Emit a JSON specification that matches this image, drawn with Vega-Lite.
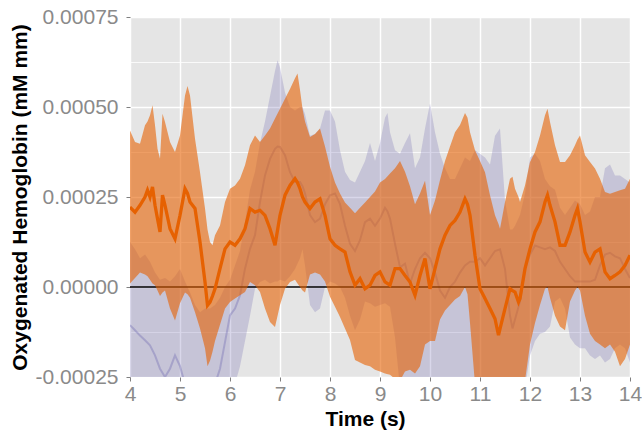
{
"$schema":"https://vega.github.io/schema/vega-lite/v6.json",
"width":500,"height":360,
"autosize":{"type":"none"},
"padding":{"left":130,"top":17,"right":12,"bottom":64},
"config":{"view":{"fill":"#e5e5e5","stroke":null},"font":"Liberation Sans"},
"data":{"values":[
{"g":"P","t":4.0,"lo":-3.5e-4,"hi":1.25e-4,"m":-1.06e-4},
{"g":"P","t":4.1,"lo":-3.5e-4,"hi":1.05e-4,"m":-1.2e-4},
{"g":"P","t":4.2,"lo":-3.5e-4,"hi":0.8e-4,"m":-1.35e-4},
{"g":"P","t":4.3,"lo":-3.5e-4,"hi":0.9e-4,"m":-1.48e-4},
{"g":"P","t":4.4,"lo":-3.5e-4,"hi":0.7e-4,"m":-1.62e-4},
{"g":"P","t":4.5,"lo":-3.5e-4,"hi":0.4e-4,"m":-1.9e-4},
{"g":"P","t":4.6,"lo":-3.5e-4,"hi":0.2e-4,"m":-2.27e-4},
{"g":"P","t":4.7,"lo":-3.5e-4,"hi":0.25e-4,"m":-2.5e-4},
{"g":"P","t":4.8,"lo":-3.5e-4,"hi":0.15e-4,"m":-2.27e-4},
{"g":"P","t":4.9,"lo":-3.5e-4,"hi":0.3e-4,"m":-1.9e-4},
{"g":"P","t":5.0,"lo":-3.5e-4,"hi":0.5e-4,"m":-2.2e-4},
{"g":"P","t":5.1,"lo":-3.5e-4,"hi":0.15e-4,"m":-2.7e-4},
{"g":"P","t":5.2,"lo":-3.5e-4,"hi":-0.15e-4,"m":-3.0e-4},
{"g":"P","t":5.3,"lo":-3.5e-4,"hi":-0.5e-4,"m":-3.2e-4},
{"g":"P","t":5.4,"lo":-3.5e-4,"hi":-0.7e-4,"m":-3.3e-4},
{"g":"P","t":5.5,"lo":-3.5e-4,"hi":-0.6e-4,"m":-3.2e-4},
{"g":"P","t":5.6,"lo":-3.5e-4,"hi":-0.6e-4,"m":-3.0e-4},
{"g":"P","t":5.7,"lo":-3.5e-4,"hi":-0.5e-4,"m":-2.7e-4},
{"g":"P","t":5.8,"lo":-3.5e-4,"hi":-0.3e-4,"m":-2.27e-4},
{"g":"P","t":5.9,"lo":-3.3e-4,"hi":0.0e-4,"m":-1.53e-4},
{"g":"P","t":6.0,"lo":-3.0e-4,"hi":0.2e-4,"m":-0.79e-4},
{"g":"P","t":6.1,"lo":-2.7e-4,"hi":0.6e-4,"m":-0.6e-4},
{"g":"P","t":6.2,"lo":-2.2e-4,"hi":1.0e-4,"m":-0.23e-4},
{"g":"P","t":6.3,"lo":-1.5e-4,"hi":1.8e-4,"m":0.51e-4},
{"g":"P","t":6.4,"lo":-0.8e-4,"hi":2.7e-4,"m":1.06e-4},
{"g":"P","t":6.5,"lo":-0.05e-4,"hi":3.2e-4,"m":1.44e-4},
{"g":"P","t":6.6,"lo":0.14e-4,"hi":4.0e-4,"m":2.36e-4},
{"g":"P","t":6.7,"lo":0.2e-4,"hi":4.6e-4,"m":3.1e-4},
{"g":"P","t":6.8,"lo":0.1e-4,"hi":5.3e-4,"m":3.56e-4},
{"g":"P","t":6.9,"lo":0.15e-4,"hi":6.0e-4,"m":3.84e-4},
{"g":"P","t":6.95,"lo":0.15e-4,"hi":6.3e-4,"m":3.9e-4},
{"g":"P","t":7.0,"lo":0.2e-4,"hi":6.1e-4,"m":3.89e-4},
{"g":"P","t":7.1,"lo":0.15e-4,"hi":5.4e-4,"m":3.66e-4},
{"g":"P","t":7.2,"lo":0.3e-4,"hi":5.0e-4,"m":3.19e-4},
{"g":"P","t":7.3,"lo":0.5e-4,"hi":4.9e-4,"m":2.92e-4},
{"g":"P","t":7.4,"lo":0.8e-4,"hi":5.0e-4,"m":2.92e-4},
{"g":"P","t":7.45,"lo":1.05e-4,"hi":5.0e-4,"m":2.8e-4},
{"g":"P","t":7.5,"lo":0.6e-4,"hi":4.8e-4,"m":2.6e-4},
{"g":"P","t":7.6,"lo":-0.5e-4,"hi":4.2e-4,"m":2.0e-4},
{"g":"P","t":7.7,"lo":-0.7e-4,"hi":4.25e-4,"m":1.8e-4},
{"g":"P","t":7.8,"lo":-0.6e-4,"hi":4.4e-4,"m":1.9e-4},
{"g":"P","t":7.9,"lo":0.0e-4,"hi":4.9e-4,"m":2.3e-4},
{"g":"P","t":8.0,"lo":0.15e-4,"hi":4.9e-4,"m":2.55e-4},
{"g":"P","t":8.1,"lo":0.1e-4,"hi":4.6e-4,"m":2.6e-4},
{"g":"P","t":8.2,"lo":0.0e-4,"hi":3.8e-4,"m":2.3e-4},
{"g":"P","t":8.3,"lo":-0.3e-4,"hi":3.2e-4,"m":1.7e-4},
{"g":"P","t":8.4,"lo":-0.8e-4,"hi":2.97e-4,"m":1.2e-4},
{"g":"P","t":8.5,"lo":-1.2e-4,"hi":2.9e-4,"m":1.0e-4},
{"g":"P","t":8.6,"lo":-0.9e-4,"hi":3.2e-4,"m":1.3e-4},
{"g":"P","t":8.7,"lo":-0.4e-4,"hi":3.5e-4,"m":1.8e-4},
{"g":"P","t":8.8,"lo":-0.45e-4,"hi":4.0e-4,"m":1.9e-4},
{"g":"P","t":8.9,"lo":-0.55e-4,"hi":3.5e-4,"m":1.7e-4},
{"g":"P","t":9.0,"lo":-0.5e-4,"hi":4.0e-4,"m":1.9e-4},
{"g":"P","t":9.1,"lo":-0.45e-4,"hi":4.7e-4,"m":2.2e-4},
{"g":"P","t":9.15,"lo":-0.5e-4,"hi":4.83e-4,"m":2.1e-4},
{"g":"P","t":9.2,"lo":-0.55e-4,"hi":4.3e-4,"m":1.9e-4},
{"g":"P","t":9.3,"lo":-1.4e-4,"hi":3.8e-4,"m":1.2e-4},
{"g":"P","t":9.4,"lo":-2.8e-4,"hi":3.7e-4,"m":0.55e-4},
{"g":"P","t":9.5,"lo":-3.0e-4,"hi":4.0e-4,"m":0.65e-4},
{"g":"P","t":9.6,"lo":-3.0e-4,"hi":4.27e-4,"m":0.1e-4},
{"g":"P","t":9.7,"lo":-3.0e-4,"hi":3.3e-4,"m":0.5e-4},
{"g":"P","t":9.8,"lo":-3.0e-4,"hi":3.6e-4,"m":0.8e-4},
{"g":"P","t":9.9,"lo":-3.0e-4,"hi":4.4e-4,"m":0.95e-4},
{"g":"P","t":10.0,"lo":-3.0e-4,"hi":5.1e-4,"m":0.8e-4},
{"g":"P","t":10.1,"lo":-3.0e-4,"hi":4.3e-4,"m":0.4e-4},
{"g":"P","t":10.2,"lo":-3.0e-4,"hi":3.7e-4,"m":-0.1e-4},
{"g":"P","t":10.3,"lo":-3.0e-4,"hi":3.3e-4,"m":-0.3e-4},
{"g":"P","t":10.4,"lo":-3.0e-4,"hi":3.0e-4,"m":0.0e-4},
{"g":"P","t":10.5,"lo":-3.0e-4,"hi":3.0e-4,"m":0.15e-4},
{"g":"P","t":10.6,"lo":-3.0e-4,"hi":3.3e-4,"m":0.4e-4},
{"g":"P","t":10.7,"lo":-3.0e-4,"hi":3.6e-4,"m":0.6e-4},
{"g":"P","t":10.8,"lo":-3.0e-4,"hi":3.5e-4,"m":0.7e-4},
{"g":"P","t":10.9,"lo":-3.0e-4,"hi":3.8e-4,"m":0.7e-4},
{"g":"P","t":11.0,"lo":-3.0e-4,"hi":3.7e-4,"m":0.8e-4},
{"g":"P","t":11.1,"lo":-3.0e-4,"hi":3.6e-4,"m":0.6e-4},
{"g":"P","t":11.2,"lo":-3.0e-4,"hi":3.4e-4,"m":0.8e-4},
{"g":"P","t":11.3,"lo":-3.0e-4,"hi":4.2e-4,"m":1.0e-4},
{"g":"P","t":11.4,"lo":-3.0e-4,"hi":4.4e-4,"m":1.05e-4},
{"g":"P","t":11.5,"lo":-3.0e-4,"hi":2.4e-4,"m":0.5e-4},
{"g":"P","t":11.6,"lo":-3.0e-4,"hi":1.6e-4,"m":-0.8e-4},
{"g":"P","t":11.65,"lo":-3.0e-4,"hi":1.6e-4,"m":-1.15e-4},
{"g":"P","t":11.7,"lo":-3.0e-4,"hi":1.7e-4,"m":-0.9e-4},
{"g":"P","t":11.8,"lo":-3.0e-4,"hi":2.0e-4,"m":-0.4e-4},
{"g":"P","t":11.9,"lo":-2.8e-4,"hi":2.6e-4,"m":0.5e-4},
{"g":"P","t":12.0,"lo":-1.9e-4,"hi":3.6e-4,"m":0.9e-4},
{"g":"P","t":12.1,"lo":-1.5e-4,"hi":3.7e-4,"m":1.15e-4},
{"g":"P","t":12.2,"lo":-1.3e-4,"hi":3.5e-4,"m":1.1e-4},
{"g":"P","t":12.3,"lo":-1.25e-4,"hi":3.0e-4,"m":1.05e-4},
{"g":"P","t":12.4,"lo":-1.1e-4,"hi":2.8e-4,"m":1.1e-4},
{"g":"P","t":12.5,"lo":-0.4e-4,"hi":2.7e-4,"m":1.0e-4},
{"g":"P","t":12.6,"lo":-0.3e-4,"hi":2.2e-4,"m":0.7e-4},
{"g":"P","t":12.7,"lo":-0.6e-4,"hi":2.0e-4,"m":0.5e-4},
{"g":"P","t":12.8,"lo":-1.4e-4,"hi":2.2e-4,"m":0.3e-4},
{"g":"P","t":12.9,"lo":-1.6e-4,"hi":2.4e-4,"m":0.15e-4},
{"g":"P","t":13.0,"lo":-1.7e-4,"hi":2.3e-4,"m":0.15e-4},
{"g":"P","t":13.1,"lo":-1.7e-4,"hi":2.0e-4,"m":0.15e-4},
{"g":"P","t":13.2,"lo":-1.9e-4,"hi":2.1e-4,"m":0.15e-4},
{"g":"P","t":13.3,"lo":-2.0e-4,"hi":2.5e-4,"m":0.2e-4},
{"g":"P","t":13.4,"lo":-1.9e-4,"hi":2.5e-4,"m":0.6e-4},
{"g":"P","t":13.5,"lo":-2.1e-4,"hi":3.3e-4,"m":0.9e-4},
{"g":"P","t":13.6,"lo":-2.0e-4,"hi":3.4e-4,"m":0.95e-4},
{"g":"P","t":13.7,"lo":-1.7e-4,"hi":3.1e-4,"m":0.85e-4},
{"g":"P","t":13.8,"lo":-1.6e-4,"hi":3.1e-4,"m":0.8e-4},
{"g":"P","t":13.9,"lo":-1.7e-4,"hi":3.0e-4,"m":0.5e-4},
{"g":"P","t":14.0,"lo":-2.1e-4,"hi":2.9e-4,"m":0.25e-4},
{"g":"O","t":4.0,"lo":0.1e-4,"hi":4.35e-4,"m":2.22e-4},
{"g":"O","t":4.1,"lo":0.25e-4,"hi":4.03e-4,"m":2.08e-4},
{"g":"O","t":4.2,"lo":0.4e-4,"hi":3.98e-4,"m":2.27e-4},
{"g":"O","t":4.3,"lo":0.35e-4,"hi":4.49e-4,"m":2.5e-4},
{"g":"O","t":4.35,"lo":0.3e-4,"hi":4.6e-4,"m":2.69e-4},
{"g":"O","t":4.4,"lo":0.2e-4,"hi":4.77e-4,"m":2.5e-4},
{"g":"O","t":4.45,"lo":0.1e-4,"hi":5.05e-4,"m":2.78e-4},
{"g":"O","t":4.5,"lo":0.05e-4,"hi":4.49e-4,"m":2.27e-4},
{"g":"O","t":4.55,"lo":-0.1e-4,"hi":3.84e-4,"m":1.9e-4},
{"g":"O","t":4.6,"lo":-0.25e-4,"hi":3.56e-4,"m":1.53e-4},
{"g":"O","t":4.65,"lo":-0.15e-4,"hi":4.81e-4,"m":2.55e-4},
{"g":"O","t":4.7,"lo":-0.1e-4,"hi":4.58e-4,"m":2.27e-4},
{"g":"O","t":4.8,"lo":-0.6e-4,"hi":4.03e-4,"m":1.62e-4},
{"g":"O","t":4.9,"lo":-0.93e-4,"hi":3.75e-4,"m":1.34e-4},
{"g":"O","t":5.0,"lo":-0.45e-4,"hi":4.21e-4,"m":1.99e-4},
{"g":"O","t":5.1,"lo":-0.15e-4,"hi":5.32e-4,"m":2.73e-4},
{"g":"O","t":5.15,"lo":-0.2e-4,"hi":5.58e-4,"m":2.6e-4},
{"g":"O","t":5.2,"lo":-0.3e-4,"hi":5.32e-4,"m":2.36e-4},
{"g":"O","t":5.3,"lo":-0.7e-4,"hi":4.12e-4,"m":2.18e-4},
{"g":"O","t":5.4,"lo":-1.15e-4,"hi":3.19e-4,"m":1.25e-4},
{"g":"O","t":5.5,"lo":-1.7e-4,"hi":2.18e-4,"m":0.14e-4},
{"g":"O","t":5.55,"lo":-2.2e-4,"hi":1.6e-4,"m":-0.51e-4},
{"g":"O","t":5.6,"lo":-2.05e-4,"hi":1.25e-4,"m":-0.42e-4},
{"g":"O","t":5.65,"lo":-1.8e-4,"hi":1.16e-4,"m":-0.25e-4},
{"g":"O","t":5.7,"lo":-1.5e-4,"hi":1.44e-4,"m":-0.05e-4},
{"g":"O","t":5.8,"lo":-1.05e-4,"hi":1.71e-4,"m":0.51e-4},
{"g":"O","t":5.9,"lo":-0.6e-4,"hi":2.36e-4,"m":1.06e-4},
{"g":"O","t":6.0,"lo":-0.42e-4,"hi":2.73e-4,"m":1.25e-4},
{"g":"O","t":6.1,"lo":-0.32e-4,"hi":2.82e-4,"m":1.16e-4},
{"g":"O","t":6.2,"lo":-0.23e-4,"hi":3.01e-4,"m":1.34e-4},
{"g":"O","t":6.3,"lo":-0.14e-4,"hi":3.38e-4,"m":1.62e-4},
{"g":"O","t":6.4,"lo":0.14e-4,"hi":3.94e-4,"m":2.18e-4},
{"g":"O","t":6.5,"lo":0.05e-4,"hi":4.21e-4,"m":2.08e-4},
{"g":"O","t":6.6,"lo":-0.14e-4,"hi":4.03e-4,"m":2.13e-4},
{"g":"O","t":6.7,"lo":-0.6e-4,"hi":4.21e-4,"m":1.99e-4},
{"g":"O","t":6.8,"lo":-0.97e-4,"hi":4.4e-4,"m":1.62e-4},
{"g":"O","t":6.9,"lo":-1.11e-4,"hi":4.68e-4,"m":1.16e-4},
{"g":"O","t":7.0,"lo":-0.5e-4,"hi":4.95e-4,"m":1.99e-4},
{"g":"O","t":7.1,"lo":-0.05e-4,"hi":5.23e-4,"m":2.55e-4},
{"g":"O","t":7.2,"lo":0.14e-4,"hi":5.5e-4,"m":2.82e-4},
{"g":"O","t":7.3,"lo":0.2e-4,"hi":5.8e-4,"m":3.01e-4},
{"g":"O","t":7.35,"lo":0.1e-4,"hi":5.93e-4,"m":2.9e-4},
{"g":"O","t":7.4,"lo":0.0e-4,"hi":5.47e-4,"m":2.73e-4},
{"g":"O","t":7.45,"lo":-0.1e-4,"hi":4.95e-4,"m":2.5e-4},
{"g":"O","t":7.5,"lo":-0.15e-4,"hi":4.6e-4,"m":2.36e-4},
{"g":"O","t":7.6,"lo":0.35e-4,"hi":4.17e-4,"m":2.18e-4},
{"g":"O","t":7.7,"lo":0.4e-4,"hi":4.25e-4,"m":2.36e-4},
{"g":"O","t":7.8,"lo":0.35e-4,"hi":4.4e-4,"m":2.45e-4},
{"g":"O","t":7.9,"lo":0.15e-4,"hi":3.9e-4,"m":1.99e-4},
{"g":"O","t":8.0,"lo":-0.27e-4,"hi":3.34e-4,"m":1.34e-4},
{"g":"O","t":8.1,"lo":-0.55e-4,"hi":2.9e-4,"m":1.16e-4},
{"g":"O","t":8.2,"lo":-0.83e-4,"hi":2.6e-4,"m":1.06e-4},
{"g":"O","t":8.3,"lo":-1.15e-4,"hi":2.35e-4,"m":0.97e-4},
{"g":"O","t":8.4,"lo":-1.47e-4,"hi":2.2e-4,"m":0.42e-4},
{"g":"O","t":8.5,"lo":-2.03e-4,"hi":2.05e-4,"m":0.05e-4},
{"g":"O","t":8.6,"lo":-2.1e-4,"hi":2.2e-4,"m":0.23e-4},
{"g":"O","t":8.7,"lo":-2.17e-4,"hi":2.35e-4,"m":-0.05e-4},
{"g":"O","t":8.8,"lo":-2.2e-4,"hi":2.5e-4,"m":0.05e-4},
{"g":"O","t":8.9,"lo":-2.3e-4,"hi":2.65e-4,"m":0.32e-4},
{"g":"O","t":9.0,"lo":-2.35e-4,"hi":2.9e-4,"m":0.42e-4},
{"g":"O","t":9.1,"lo":-2.4e-4,"hi":3.0e-4,"m":0.14e-4},
{"g":"O","t":9.2,"lo":-2.44e-4,"hi":3.15e-4,"m":0.05e-4},
{"g":"O","t":9.3,"lo":-2.55e-4,"hi":3.3e-4,"m":0.51e-4},
{"g":"O","t":9.4,"lo":-2.6e-4,"hi":3.5e-4,"m":0.51e-4},
{"g":"O","t":9.5,"lo":-2.35e-4,"hi":3.2e-4,"m":0.32e-4},
{"g":"O","t":9.6,"lo":-2.3e-4,"hi":2.8e-4,"m":0.14e-4},
{"g":"O","t":9.7,"lo":-2.4e-4,"hi":2.3e-4,"m":-0.23e-4},
{"g":"O","t":9.8,"lo":-2.2e-4,"hi":2.6e-4,"m":0.32e-4},
{"g":"O","t":9.9,"lo":-1.6e-4,"hi":2.95e-4,"m":0.79e-4},
{"g":"O","t":10.0,"lo":-1.5e-4,"hi":2.0e-4,"m":-0.05e-4},
{"g":"O","t":10.1,"lo":-1.5e-4,"hi":2.4e-4,"m":0.51e-4},
{"g":"O","t":10.2,"lo":-0.9e-4,"hi":2.97e-4,"m":1.06e-4},
{"g":"O","t":10.3,"lo":-0.65e-4,"hi":3.5e-4,"m":1.44e-4},
{"g":"O","t":10.4,"lo":-0.5e-4,"hi":3.9e-4,"m":1.71e-4},
{"g":"O","t":10.5,"lo":-0.35e-4,"hi":4.3e-4,"m":1.85e-4},
{"g":"O","t":10.6,"lo":-0.25e-4,"hi":4.5e-4,"m":2.08e-4},
{"g":"O","t":10.7,"lo":0.0e-4,"hi":4.83e-4,"m":2.45e-4},
{"g":"O","t":10.75,"lo":-0.2e-4,"hi":4.7e-4,"m":2.3e-4},
{"g":"O","t":10.8,"lo":-1.0e-4,"hi":4.3e-4,"m":1.99e-4},
{"g":"O","t":10.9,"lo":-2.7e-4,"hi":3.8e-4,"m":0.88e-4},
{"g":"O","t":11.0,"lo":-2.9e-4,"hi":3.5e-4,"m":-0.05e-4},
{"g":"O","t":11.1,"lo":-3.0e-4,"hi":3.19e-4,"m":-0.32e-4},
{"g":"O","t":11.2,"lo":-3.0e-4,"hi":2.55e-4,"m":-0.6e-4},
{"g":"O","t":11.3,"lo":-3.0e-4,"hi":1.99e-4,"m":-0.88e-4},
{"g":"O","t":11.37,"lo":-3.0e-4,"hi":1.75e-4,"m":-1.34e-4},
{"g":"O","t":11.4,"lo":-3.0e-4,"hi":1.62e-4,"m":-1.16e-4},
{"g":"O","t":11.5,"lo":-3.0e-4,"hi":2.36e-4,"m":-0.6e-4},
{"g":"O","t":11.6,"lo":-3.0e-4,"hi":3.01e-4,"m":-0.05e-4},
{"g":"O","t":11.65,"lo":-3.0e-4,"hi":3.06e-4,"m":-0.1e-4},
{"g":"O","t":11.7,"lo":-3.0e-4,"hi":2.73e-4,"m":-0.14e-4},
{"g":"O","t":11.77,"lo":-3.0e-4,"hi":2.5e-4,"m":-0.42e-4},
{"g":"O","t":11.8,"lo":-3.0e-4,"hi":2.36e-4,"m":-0.32e-4},
{"g":"O","t":11.9,"lo":-2.6e-4,"hi":2.82e-4,"m":0.51e-4},
{"g":"O","t":12.0,"lo":-1.6e-4,"hi":3.47e-4,"m":1.06e-4},
{"g":"O","t":12.1,"lo":-1.0e-4,"hi":3.75e-4,"m":1.53e-4},
{"g":"O","t":12.2,"lo":-0.5e-4,"hi":4.21e-4,"m":1.81e-4},
{"g":"O","t":12.3,"lo":-0.05e-4,"hi":4.77e-4,"m":2.36e-4},
{"g":"O","t":12.35,"lo":0.0e-4,"hi":4.95e-4,"m":2.55e-4},
{"g":"O","t":12.4,"lo":-0.3e-4,"hi":4.58e-4,"m":2.27e-4},
{"g":"O","t":12.5,"lo":-0.8e-4,"hi":3.94e-4,"m":1.81e-4},
{"g":"O","t":12.6,"lo":-1.1e-4,"hi":3.47e-4,"m":1.16e-4},
{"g":"O","t":12.7,"lo":-1.2e-4,"hi":3.47e-4,"m":1.16e-4},
{"g":"O","t":12.8,"lo":-0.4e-4,"hi":3.66e-4,"m":1.53e-4},
{"g":"O","t":12.9,"lo":-0.1e-4,"hi":3.94e-4,"m":1.99e-4},
{"g":"O","t":12.95,"lo":0.0e-4,"hi":4.1e-4,"m":2.18e-4},
{"g":"O","t":13.0,"lo":-0.1e-4,"hi":4.21e-4,"m":1.81e-4},
{"g":"O","t":13.1,"lo":-0.8e-4,"hi":3.66e-4,"m":0.97e-4},
{"g":"O","t":13.2,"lo":-1.3e-4,"hi":3.47e-4,"m":0.69e-4},
{"g":"O","t":13.3,"lo":-1.5e-4,"hi":3.29e-4,"m":0.97e-4},
{"g":"O","t":13.4,"lo":-1.6e-4,"hi":3.01e-4,"m":1.06e-4},
{"g":"O","t":13.5,"lo":-1.7e-4,"hi":2.64e-4,"m":0.42e-4},
{"g":"O","t":13.6,"lo":-1.6e-4,"hi":2.59e-4,"m":0.23e-4},
{"g":"O","t":13.7,"lo":-1.8e-4,"hi":2.64e-4,"m":0.32e-4},
{"g":"O","t":13.8,"lo":-2.2e-4,"hi":2.69e-4,"m":0.42e-4},
{"g":"O","t":13.9,"lo":-2.0e-4,"hi":2.73e-4,"m":0.6e-4},
{"g":"O","t":14.0,"lo":-1.6e-4,"hi":3.01e-4,"m":0.88e-4}
]},
"layer":[
{"transform":[{"filter":"datum.g === 'P'"}],
 "mark":{"type":"area","color":"#7570b3","opacity":0.28,"clip":true},
 "encoding":{
  "x":{"field":"t","type":"quantitative","scale":{"domain":[4,14],"nice":false,"zero":false},
   "axis":{"title":"Time (s)","values":[4,4.5,5,5.5,6,6.5,7,7.5,8,8.5,9,9.5,10,10.5,11,11.5,12,12.5,13,13.5,14],
    "labelExpr":"datum.value % 1 === 0 ? format(datum.value, 'd') : ''",
    "labelFlush":false,"labelOverlap":false,"domain":false,
    "grid":true,"gridColor":"#ffffff",
    "gridWidth":{"condition":{"test":"datum.value % 1 === 0","value":1.5},"value":0.8},
    "tickColor":"#7f7f7f","tickSize":4,"tickWidth":1,
    "tickOpacity":{"condition":{"test":"datum.value % 1 === 0","value":1},"value":0},
    "labelFont":"Liberation Sans","labelFontSize":21,"labelColor":"#8a8a8a","labelPadding":2,
    "titleFont":"Liberation Sans","titleFontSize":21,"titleFontWeight":"bold","titleColor":"#000000",
    "titleX":235,"titleY":48,"titleBaseline":"alphabetic","titleAlign":"center"}},
  "y":{"field":"lo","type":"quantitative","scale":{"domain":[-0.00025,0.00075],"nice":false,"zero":false},
   "axis":{"title":"Oxygenated Hemoglobin (mM mm)","values":[-0.00025,-0.000125,0,0.000125,0.00025,0.000375,0.0005,0.000625,0.00075],
    "labelExpr":"round(datum.value*8000) % 2 === 0 ? replace(format(datum.value, '.5f'), '\u2212', '-') : ''",
    "labelOverlap":false,"labelFlush":false,"domain":false,
    "grid":true,"gridColor":"#ffffff",
    "gridWidth":{"condition":{"test":"round(datum.value*8000) % 2 === 0","value":1.5},"value":0.8},
    "tickColor":"#7f7f7f","tickSize":4,"tickWidth":1,
    "tickOpacity":{"condition":{"test":"round(datum.value*8000) % 2 === 0","value":1},"value":0},
    "labelFont":"Liberation Sans","labelFontSize":21,"labelColor":"#8a8a8a","labelPadding":8,"labelBaseline":"middle",
    "titleFont":"Liberation Sans","titleFontSize":21,"titleFontWeight":"bold","titleColor":"#000000",
    "titleX":-104,"titleY":180,"titleAngle":-90,"titleBaseline":"alphabetic","titleAlign":"center"}},
  "y2":{"field":"hi"}}},
{"transform":[{"filter":"datum.g === 'P'"}],
 "mark":{"type":"line","color":"#7570b3","opacity":0.4,"strokeWidth":2,"clip":true},
 "encoding":{"x":{"field":"t","type":"quantitative"},"y":{"field":"m","type":"quantitative"}}},
{"data":{"values":[{"v":0}]},
 "mark":{"type":"rule","color":"#000000","strokeWidth":1.5},
 "encoding":{"y":{"field":"v","type":"quantitative"}}},
{"transform":[{"filter":"datum.g === 'O'"}],
 "mark":{"type":"area","color":"#e66101","opacity":0.6,"clip":true},
 "encoding":{"x":{"field":"t","type":"quantitative"},"y":{"field":"lo","type":"quantitative"},"y2":{"field":"hi"}}},
{"transform":[{"filter":"datum.g === 'O'"}],
 "mark":{"type":"line","color":"#e66101","strokeWidth":3.3,"clip":true},
 "encoding":{"x":{"field":"t","type":"quantitative"},"y":{"field":"m","type":"quantitative"}}}
]
}
